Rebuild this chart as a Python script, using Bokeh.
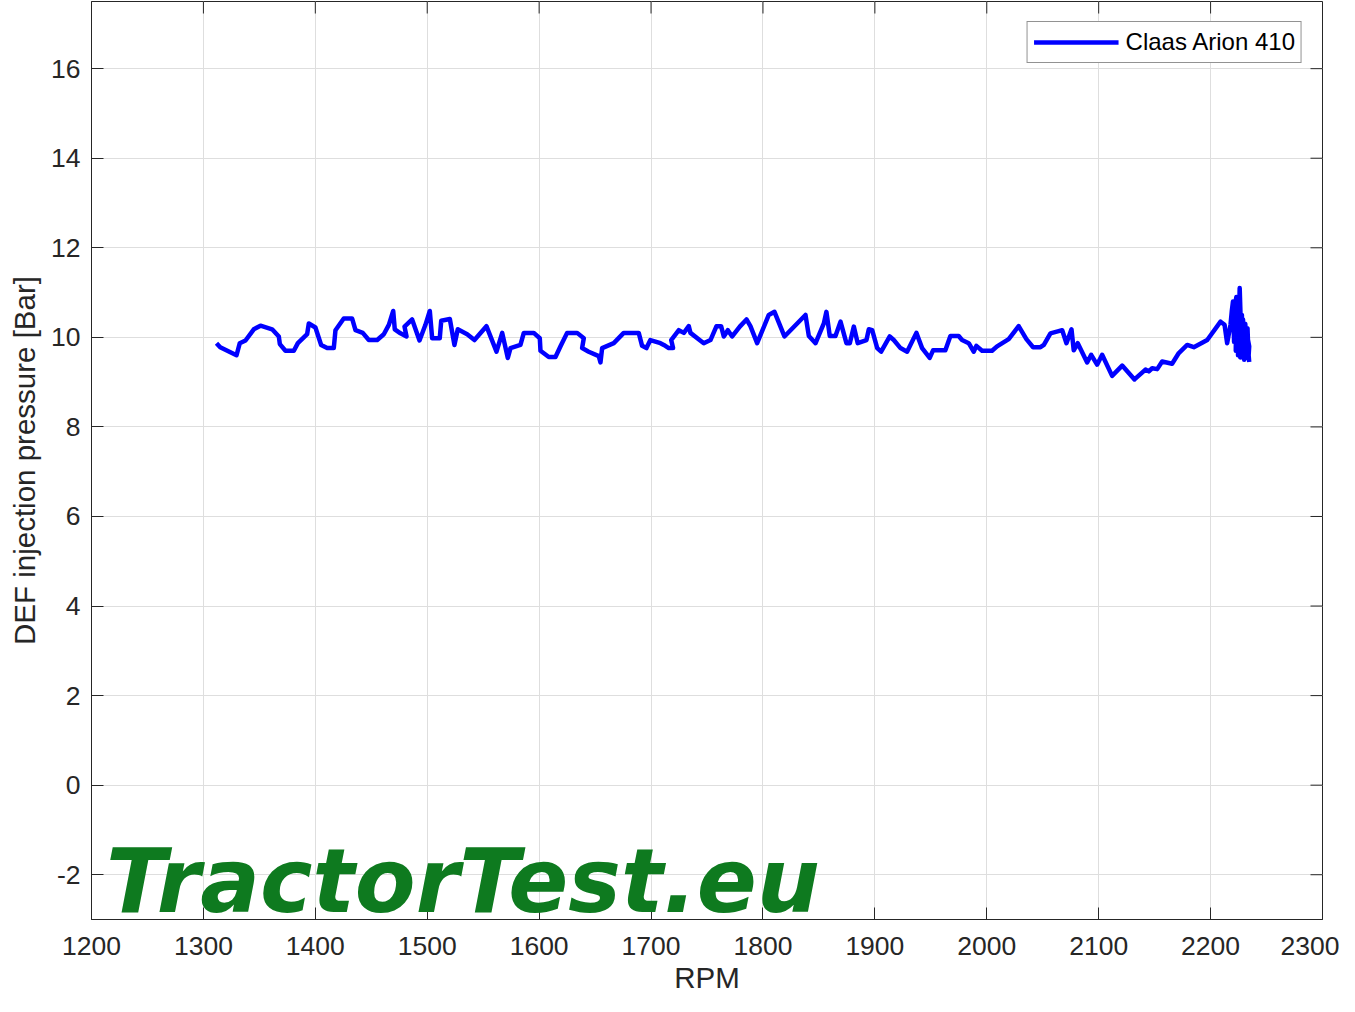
import math
from bokeh.plotting import figure
from bokeh.models import FixedTicker, Label, Range1d
from bokeh.embed import file_html
from bokeh.resources import INLINE

# ---- data ----
rpm_a = [1311.7, 1315, 1329.6, 1332.5, 1337.6, 1345, 1351, 1361.4, 1367.4, 1368.3,
         1373.3, 1380.8, 1384.4, 1392.7, 1394.2, 1400.1, 1405.2, 1410.6, 1416.5, 1418,
         1425.4, 1432.9, 1435.9, 1442.4, 1447.8, 1455.3, 1461.2, 1465.7, 1469.6, 1471.0,
         1476.1, 1481.5, 1479.7, 1486.5, 1493.1, 1498.4, 1502.3, 1504.4, 1511.2, 1512.5,
         1520.2, 1524.3, 1527.3, 1535.7, 1542.2, 1552.9, 1561.9, 1567, 1572, 1574.4,
         1583.3, 1586.3, 1595.2, 1600.6, 1601.2, 1608.6, 1614.6, 1619.1, 1625, 1634,
         1639.9, 1638.4, 1644.3, 1653.3, 1654.8, 1656.3, 1666.7, 1675.6, 1689, 1692,
         1695.9, 1699.4, 1708.4]
pres_a = [9.87, 9.78, 9.6, 9.87, 9.93, 10.18, 10.26, 10.18, 10.02, 9.85,
          9.7, 9.7, 9.87, 10.07, 10.31, 10.22, 9.83, 9.76, 9.76, 10.16,
          10.42, 10.42, 10.16, 10.1, 9.94, 9.94, 10.07, 10.28, 10.59, 10.18,
          10.09, 10.02, 10.24, 10.4, 9.93, 10.28, 10.59, 9.98, 9.98, 10.37,
          10.41, 9.83, 10.18, 10.07, 9.94, 10.25, 9.68, 10.1, 9.54, 9.76,
          9.83, 10.1, 10.1, 9.98, 9.7, 9.56, 9.56, 9.8, 10.1, 10.1,
          9.98, 9.76, 9.68, 9.58, 9.44, 9.76, 9.87, 10.1, 10.1, 9.81,
          9.76, 9.94, 9.87]

rpm_b = [1711.4, 1715.8, 1719.7, 1718, 1724.8, 1729.3, 1733.7, 1735.2, 1747.1, 1753.1,
         1758.5, 1762.6, 1765, 1768.6, 1772.5, 1779.3, 1785.3, 1788.8, 1794.8, 1805.2,
         1810.3, 1819.2, 1838, 1841, 1847, 1854.4, 1856.7, 1859.7, 1864.8, 1869.3,
         1874.6, 1877.6, 1881.2, 1884.7, 1892.5, 1894.6, 1897.6, 1902.1, 1905.6, 1913.3,
         1916.9, 1922.9, 1928.8, 1937.1, 1942.2, 1949, 1952, 1963, 1967.5, 1974.9,
         1977.9, 1983.9, 1988.3, 1990.7, 1995.8, 2004.7, 2009.2, 2019.6, 2028.5, 2035.4,
         2041.4, 2048]
pres_b = [9.83, 9.76, 9.76, 9.94, 10.16, 10.1, 10.25, 10.1, 9.87, 9.94,
          10.25, 10.25, 10.02, 10.16, 10.02, 10.24, 10.4, 10.25, 9.87, 10.5,
          10.57, 10.02, 10.5, 10.03, 9.87, 10.31, 10.57, 10.03, 10.03, 10.35,
          9.87, 9.87, 10.24, 9.87, 9.94, 10.18, 10.16, 9.76, 9.68, 10.02,
          9.94, 9.76, 9.68, 10.1, 9.76, 9.54, 9.71, 9.71, 10.03, 10.03,
          9.94, 9.87, 9.68, 9.81, 9.7, 9.7, 9.8, 9.96, 10.25, 9.96,
          9.78, 9.78]

rpm_c = [2051, 2056.9, 2067.4, 2071.2, 2075.7, 2077.7, 2081.3, 2089.7, 2093.3, 2098.6,
         2103.1, 2112, 2121, 2132, 2141.8, 2144.8, 2147.8, 2152.3, 2156.7, 2165.6,
         2171.6, 2179.1, 2185, 2197, 2208.9, 2212.5, 2214.8, 2217.8]
pres_c = [9.83, 10.09, 10.16, 9.87, 10.18, 9.71, 9.87, 9.44, 9.61, 9.39,
          9.61, 9.14, 9.37, 9.06, 9.28, 9.24, 9.31, 9.29, 9.46, 9.41,
          9.65, 9.83, 9.78, 9.94, 10.35, 10.28, 9.87, 10.28]

rpm_d = [2219, 2219.5, 2220, 2221, 2220.5, 2222, 2223, 2222.5, 2224, 2225,
         2224.5, 2226, 2227, 2226.5, 2225.5, 2228, 2227.5, 2229, 2230, 2229.5,
         2231, 2232, 2231.5, 2233, 2234, 2233, 2234.5, 2234, 2234.5]
pres_d = [10.6, 10.7, 10.8, 9.9, 10.5, 10.75, 10.9, 9.7, 10.6, 10.7,
          9.6, 11.1, 10.3, 9.55, 10.2, 10.5, 9.7, 10.4, 9.5, 10.2,
          10.3, 9.8, 10.1, 10.2, 9.5, 10.0, 9.8, 9.6, 9.45]

rpm = rpm_a + rpm_b + rpm_c + rpm_d
pressure = pres_a + pres_b + pres_c + pres_d

x_ticks = [1200, 1300, 1400, 1500, 1600, 1700, 1800, 1900, 2000, 2100, 2200, 2300]
y_ticks = [-2, 0, 2, 4, 6, 8, 10, 12, 14, 16]
y_tick_labels = {t: str(t) for t in y_ticks}
series_name = "Claas Arion 410"
x_label = "RPM"
y_label = "DEF injection pressure [Bar]"
watermark = "TractorTest.eu"

X_MIN, X_MAX = 1200, 2300
Y_MIN, Y_MAX = -3, 17.5

# ---- figure ----
TXT = "#262626"
FONT = "Liberation Sans"

p = figure(width=1339, height=996, output_backend="svg", toolbar_location=None,
           x_range=Range1d(X_MIN, X_MAX), y_range=Range1d(Y_MIN, Y_MAX),
           min_border_left=91, min_border_right=17, min_border_top=1,
           min_border_bottom=0)
p.background_fill_color = "white"
p.border_fill_color = "white"
p.outline_line_color = TXT
p.outline_line_width = 1

p.line(rpm, pressure, line_color="#0000ff", line_width=4.5, line_join="round",
       legend_label=series_name)

for ax in (p.xaxis[0], p.yaxis[0]):
    ax.major_tick_in = 12
    ax.major_tick_out = 0
    ax.minor_tick_in = 0
    ax.minor_tick_out = 0
    ax.axis_line_color = TXT
    ax.major_tick_line_color = TXT
    ax.major_label_text_color = TXT
    ax.major_label_text_font = FONT
    ax.major_label_text_font_size = "26.5px"
    ax.axis_label_text_color = TXT
    ax.axis_label_text_font = FONT
    ax.axis_label_text_font_size = "29.5px"
    ax.axis_label_text_font_style = "normal"

p.xaxis[0].ticker = FixedTicker(ticks=x_ticks)
p.yaxis[0].ticker = FixedTicker(ticks=y_ticks)
p.yaxis[0].major_label_overrides = y_tick_labels
p.xaxis[0].axis_label = x_label
p.yaxis[0].axis_label = y_label
p.xaxis[0].major_label_standoff = 17
p.xaxis[0].axis_label_standoff = 3
p.yaxis[0].major_label_standoff = 11
p.yaxis[0].axis_label_standoff = 7

# inward ticks on the top and right edges of the box
p.ray(x=x_ticks, y=[Y_MAX] * len(x_ticks), length=12, length_units="screen",
      angle=-math.pi / 2, line_color=TXT, line_width=1)
p.ray(x=[X_MAX] * len(y_ticks), y=y_ticks, length=12, length_units="screen",
      angle=math.pi, line_color=TXT, line_width=1)

p.xgrid[0].ticker = FixedTicker(ticks=x_ticks)
p.ygrid[0].ticker = FixedTicker(ticks=y_ticks)
for g in (p.xgrid[0], p.ygrid[0]):
    g.grid_line_color = "#dedede"
    g.grid_line_width = 1

lg = p.legend[0]
lg.location = "top_right"
lg.margin = 20
lg.border_line_color = TXT
lg.border_line_width = 1
lg.label_text_font = FONT
lg.label_text_font_size = "24px"
lg.label_text_color = "#000000"
lg.glyph_width = 85
lg.glyph_height = 22
lg.label_standoff = 7
lg.padding = 6
lg.spacing = 0
lg.background_fill_alpha = 1

wm = Label(x=1213, y=-2.15, text=watermark, text_font="DejaVu Sans",
           text_font_style="bold italic", text_font_size="88.5px",
           text_color="#0e7a1f", text_baseline="alphabetic", text_align="left")
p.add_layout(wm)

open("out.html", "w").write(file_html(p, INLINE))
